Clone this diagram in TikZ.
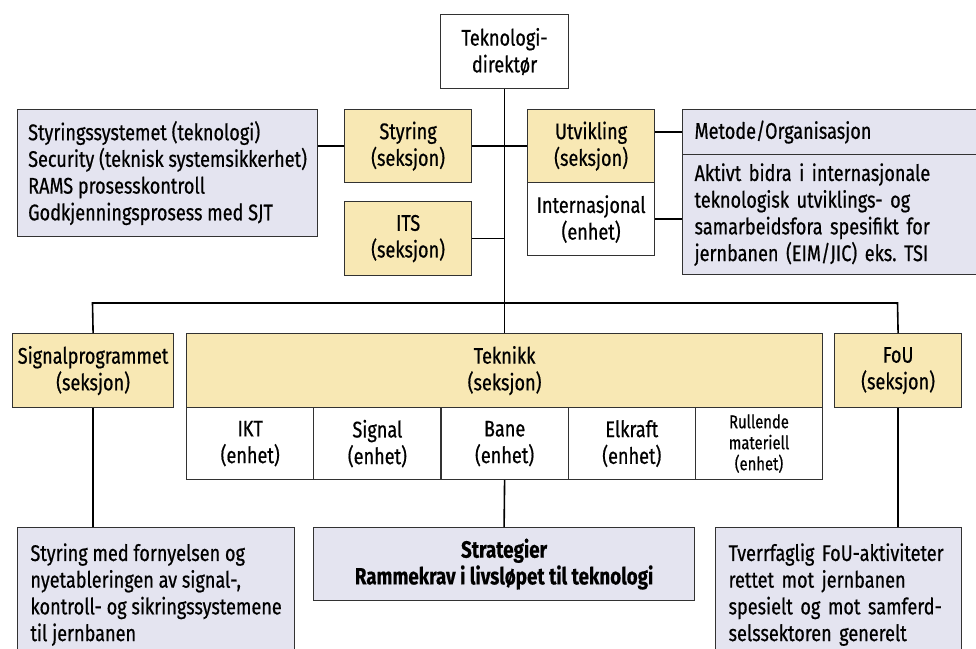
\documentclass[tikz,border=0pt]{standalone}
\usepackage{fontspec}
\setmainfont[FakeStretch=0.8, UprightFeatures={FakeBold=0.6}, BoldFeatures={FakeBold=0.4}]{Fira Sans}
\definecolor{secyel}{RGB}{248,232,180}
\definecolor{infolav}{RGB}{228,228,240}
\definecolor{edgecol}{RGB}{50,50,50}
\begin{document}
\frenchspacing
\begin{tikzpicture}[x=1pt,y=-1pt,
  box/.style={draw=edgecol, line width=1.2pt, inner sep=0pt, anchor=north west,
    font=\fontsize{22.6}{26.7}\selectfont, align=center},
  sec/.style={box, fill=secyel},
  info/.style={box, fill=infolav},
  unitbox/.style={box, fill=white},
  conn/.style={line width=1.6pt, black}]
\useasboundingbox (0,0) rectangle (976,648);

\node[unitbox, minimum width=128pt, minimum height=74pt] (dir) at (440,14) {Teknologi-\\direktør};

\node[info, align=left, minimum width=300pt, minimum height=127pt] (styinfo) at (17,109)
  {Styringssystemet (teknologi)\\Security (teknisk systemsikkerhet)\\RAMS prosesskontroll\\Godkjenningsprosess med SJT};
\node[sec, minimum width=127pt, minimum height=73pt] (sty) at (344,109) {Styring\\(seksjon)};
\node[sec, minimum width=127pt, minimum height=74pt] (its) at (344,201) {ITS\\(seksjon)};
\node[sec, minimum width=127pt, minimum height=73pt] (utv) at (527,109) {Utvikling\\(seksjon)};
\node[unitbox, minimum width=127pt, minimum height=73pt] (int) at (527,182) {Internasjonal\\(enhet)};
\node[info, align=left, text width=280pt, inner xsep=12pt, minimum height=45pt] (met) at (682,109) {Metode/Organisasjon};
\node[info, align=left, text width=280pt, inner xsep=12pt, minimum height=120pt] (akt) at (682,154)
  {Aktivt bidra i internasjonale\\teknologisk utviklings- og\\samarbeidsfora spesifikt for\\jernbanen (EIM/JIC) eks. TSI};

\node[sec, minimum width=161pt, minimum height=74pt] (sig) at (12,333) {Signalprogrammet\\(seksjon)};
\node[sec, minimum width=636pt, minimum height=74pt] (tek) at (186,333) {Teknikk\\(seksjon)};
\node[unitbox, minimum width=127.2pt, minimum height=72pt] (ikt) at (186,407) {IKT\\(enhet)};
\node[unitbox, minimum width=127.2pt, minimum height=72pt] (signal) at (313.2,407) {Signal\\(enhet)};
\node[unitbox, minimum width=127.2pt, minimum height=72pt] (bane) at (440.4,407) {Bane\\(enhet)};
\node[unitbox, minimum width=127.2pt, minimum height=72pt] (elk) at (567.6,407) {Elkraft\\(enhet)};
\node[unitbox, minimum width=127.2pt, minimum height=72pt, font=\fontsize{18.5}{21}\selectfont] (rull) at (694.8,407) {Rullende\\materiell\\(enhet)};
\node[sec, minimum width=127pt, minimum height=74pt] (fou) at (834,333) {FoU\\(seksjon)};

\node[info, align=left, minimum width=277pt, minimum height=134pt] (bl) at (17,527)
  {Styring med fornyelsen og\\nyetableringen av signal-,\\kontroll- og sikringssystemene\\til jernbanen};
\node[info, minimum width=381pt, minimum height=73pt, font=\fontsize{23.5}{26.7}\selectfont\bfseries] (strat) at (313,527)
  {Strategier\\Rammekrav i livsløpet til teknologi};
\node[info, align=left, text width=220pt, inner xsep=13pt, minimum height=134pt] (br) at (715,527)
  {Tverrfaglig FoU-aktiviteter\\rettet mot jernbanen\\spesielt og mot samferd-\\selssektoren generelt};

\coordinate (busL) at (92.5,303);
\coordinate (busR) at (897.5,303);

\draw[conn] (dir.south) -- (tek.north);
\draw[conn] (sty.east) -- (sty.east -| dir.south);
\draw[conn] (its.east) -- (its.east -| dir.south);
\draw[conn] (utv.west) -- (utv.west -| dir.south);
\draw[conn] (styinfo.east |- sty.west) -- (sty.west);
\draw[conn] (utv.east |- met.west) -- (met.west);
\draw[conn] (int.east) -- (int.east -| akt.west);
\draw[conn] (sig.north) -- (busL) -- (busR) -- (fou.north);
\draw[conn] (sig.south) -- (sig.south |- bl.north);
\draw[conn] (bane.south) -- (strat.north);
\draw[conn] (fou.south) -- (fou.south |- br.north);
\end{tikzpicture}
\end{document}
